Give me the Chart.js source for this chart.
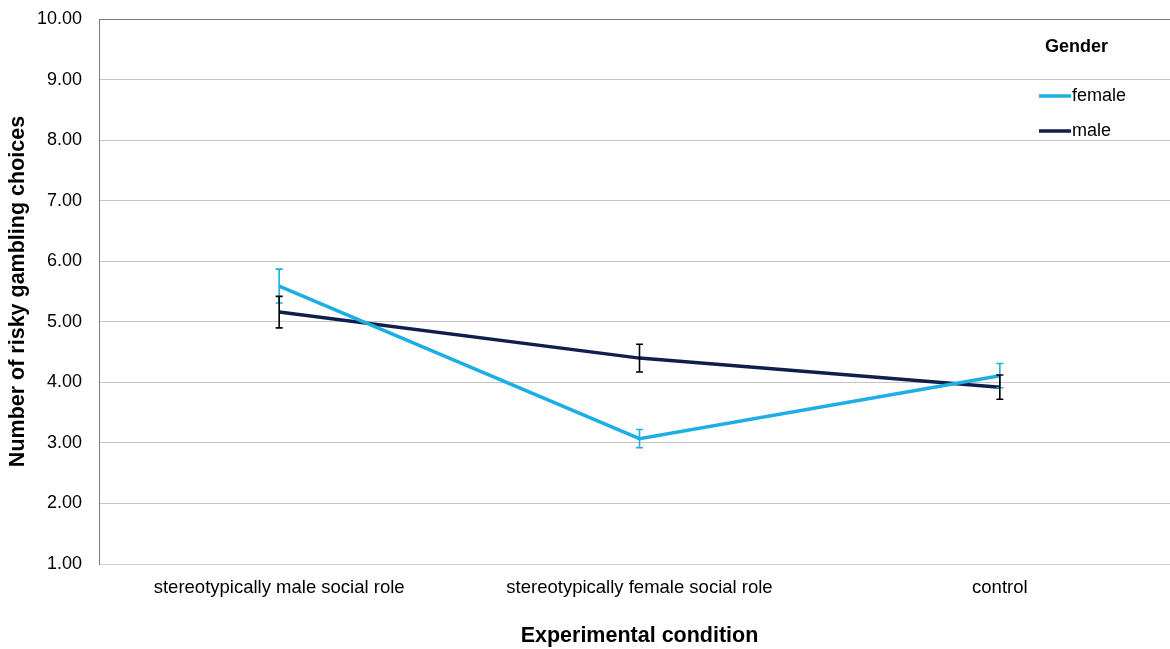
<!DOCTYPE html>
<html>
<head>
<meta charset="utf-8">
<script src="https://cdn.jsdelivr.net/npm/chart.js@4/dist/chart.umd.min.js"></script>
<style>
html,body{margin:0;padding:0;background:#fff;overflow:hidden;}
#wrap{width:1180px;height:649px;position:relative;}
</style>
</head>
<body>
<div id="wrap"><canvas id="c"></canvas></div>
<script>
const categories = ["stereotypically male social role", "stereotypically female social role", "control"];
const femaleMeans = [5.59, 3.07, 4.11];
const femaleErr = [0.28, 0.15, 0.20];
const maleMeans = [5.16, 4.40, 3.92];
const maleErr = [0.26, 0.23, 0.20];
const yTicks = [1, 2, 3, 4, 5, 6, 7, 8, 9, 10];
const legendTitle = "Gender";

const FONT = "'Liberation Sans', Arial, Helvetica, sans-serif";

const errorBars = {
  id: 'errorBars',
  afterDatasetsDraw(chart) {
    const ctx = chart.ctx;
    const y = chart.scales.y;
    chart.data.datasets.forEach((ds, di) => {
      const meta = chart.getDatasetMeta(di);
      ctx.save();
      ctx.strokeStyle = ds.errColor;
      ctx.lineWidth = 1.6;
      meta.data.forEach((pt, i) => {
        const x = pt.x;
        const m = ds.data[i], e = ds.errors[i];
        const yt = y.getPixelForValue(m + e);
        const yb = y.getPixelForValue(m - e);
        ctx.beginPath();
        ctx.moveTo(x, yt); ctx.lineTo(x, yb);
        ctx.moveTo(x - 3.5, yt); ctx.lineTo(x + 3.5, yt);
        ctx.moveTo(x - 3.5, yb); ctx.lineTo(x + 3.5, yb);
        ctx.stroke();
      });
      ctx.restore();
    });
  }
};

const customLegend = {
  id: 'customLegend',
  afterDraw(chart) {
    const ctx = chart.ctx;
    ctx.save();
    ctx.fillStyle = '#000';
    ctx.font = "bold 18px " + FONT;
    ctx.textBaseline = 'middle';
    ctx.textAlign = 'left';
    ctx.fillText(legendTitle, 1045, 47);
    ctx.font = "18px " + FONT;
    chart.data.datasets.forEach((ds, i) => {
      const yy = 96 + i * 35;
      ctx.strokeStyle = ds.borderColor;
      ctx.lineWidth = 3.5;
      ctx.beginPath();
      ctx.moveTo(1039, yy); ctx.lineTo(1071, yy);
      ctx.stroke();
      ctx.fillStyle = '#000';
      ctx.fillText(ds.label, 1072, yy);
    });
    ctx.restore();
  }
};

new Chart(document.getElementById('c'), {
  type: 'line',
  data: {
    labels: categories,
    datasets: [
      { label: 'female', data: femaleMeans, errors: femaleErr, errColor: '#1eaee6',
        borderColor: '#1eaee6', borderWidth: 3.5, pointRadius: 0, tension: 0 },
      { label: 'male', data: maleMeans, errors: maleErr, errColor: '#000000',
        borderColor: '#0f1f4d', borderWidth: 3.5, pointRadius: 0, tension: 0 }
    ]
  },
  options: {
    responsive: true,
    maintainAspectRatio: false,
    animation: false,
    layout: { padding: { top: 19, right: 0, left: 0, bottom: 0 } },
    plugins: { legend: { display: false }, tooltip: { enabled: false } },
    scales: {
      x: {
        offset: true,
        grid: { display: false, drawTicks: false },
        border: { color: '#d0d0d0', width: 1 },
        ticks: { color: '#000', font: { family: FONT, size: 18.5 }, padding: 13, maxRotation: 0, autoSkip: false },
        title: { display: true, text: 'Experimental condition', color: '#000',
                 font: { family: FONT, size: 21.5, weight: 'bold' }, padding: { top: 25, bottom: 0 } },
        afterFit(s) { s.height = 85; }
      },
      y: {
        min: 1, max: 10,
        afterBuildTicks(s) { s.ticks = yTicks.map(v => ({ value: v })); },
        grid: { drawTicks: false, color: ctx => (ctx.tick && ctx.tick.value === 10) ? '#7a7a7a' : '#c4c4c4', lineWidth: 1 },
        border: { color: '#7a7a7a', width: 1 },
        ticks: { color: '#000', font: { family: FONT, size: 18 }, padding: 17,
                 callback: v => Number(v).toFixed(2) },
        title: { display: true, text: 'Number of risky gambling choices', color: '#000',
                 font: { family: FONT, size: 21.5, weight: 'bold' }, padding: { top: 5, bottom: 0 } },
        afterFit(s) { s.width = 99; s.paddingTop = 0; s.paddingBottom = 0; }
      }
    }
  },
  plugins: [errorBars, customLegend]
});
</script>
</body>
</html>
